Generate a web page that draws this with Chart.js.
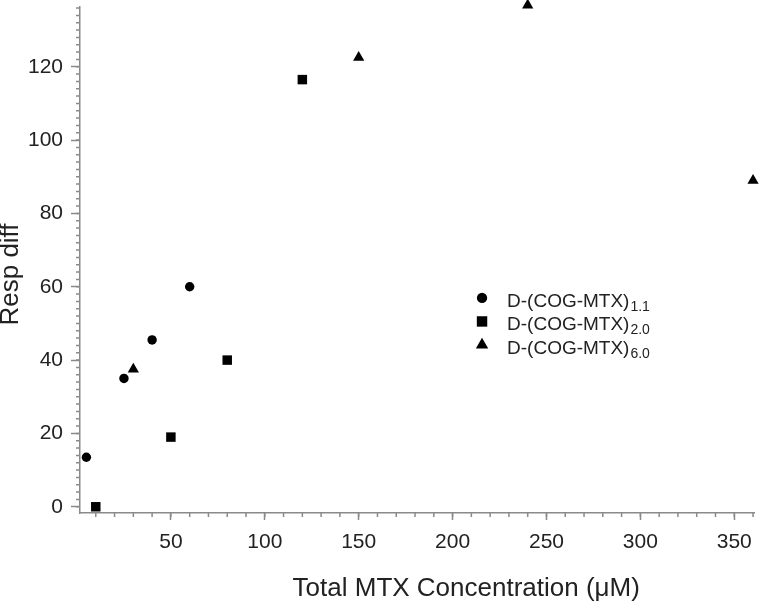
<!DOCTYPE html>
<html>
<head>
<meta charset="utf-8">
<script src="https://cdn.jsdelivr.net/npm/chart.js@4/dist/chart.umd.min.js"></script>
<style>
  html, body { margin: 0; padding: 0; background: #fff; }
</style>
</head>
<body>
<canvas id="chart" width="762" height="605"></canvas>
<script>
"use strict";

// series names are D-(COG-MTX) with the loading ratio as a subscript
const seriesBase = 'D-(COG-MTX)';
const seriesSubs = ['1.1', '2.0', '6.0'];
const seriesShapes = ['circle', 'rect', 'triangle'];

const conc11 = [5, 25, 40, 60];
const resp11 = [13.5, 35, 45.5, 60];
const conc20 = [10, 50, 80, 120];
const resp20 = [0, 19, 40, 116.5];
const conc60 = [30, 150, 240, 360];
const resp60 = [37.5, 122.5, 136.8, 89];

const xTicks = [50, 100, 150, 200, 250, 300, 350];
const yTicks = [0, 20, 40, 60, 80, 100, 120];
const xMinorStep = 10;
const yMinorStep = 2;

const xTitle = 'Total MTX Concentration (μM)';
const yTitle = 'Resp diff';

const fontFamily = '"Liberation Sans", Arial, Helvetica, sans-serif';
const axisColor = '#8a8a8a';
const textColor = '#222';
const markColor = '#000';
const pointSizes = [4.7, 6.7, 6.5];


function toPoints(xs, ys) {
  return xs.map((x, i) => ({x: x, y: ys[i]}));
}

const seriesData = [
  toPoints(conc11, resp11),
  toPoints(conc20, resp20),
  toPoints(conc60, resp60)
];


// short minor ticks between the labelled ones
function drawMinor(ctx, scale, step, len, horizontal) {
  ctx.save();
  ctx.strokeStyle = axisColor;
  ctx.lineWidth = 1.5;
  ctx.beginPath();
  for (let i = Math.ceil(scale.min / step); i * step <= scale.max + 1e-9; i++) {
    const p = scale.getPixelForValue(i * step);
    if (horizontal) {
      ctx.moveTo(p, scale.top);
      ctx.lineTo(p, scale.top + len);
    } else {
      ctx.moveTo(scale.right, p);
      ctx.lineTo(scale.right - len, p);
    }
  }
  ctx.stroke();
  ctx.restore();
}

const minorTicks = {
  id: 'minorTicks',
  afterDraw(chart) {
    drawMinor(chart.ctx, chart.scales.x, xMinorStep, 4, true);
    drawMinor(chart.ctx, chart.scales.y, yMinorStep, 4, false);
  }
};

// axis titles sit off-centre in the original, so draw them here
const axisTitles = {
  id: 'axisTitles',
  afterDraw(chart) {
    const ctx = chart.ctx;
    const a = chart.chartArea;
    ctx.save();
    ctx.fillStyle = textColor;
    ctx.font = '26px ' + fontFamily;
    ctx.textAlign = 'center';
    ctx.textBaseline = 'middle';
    ctx.fillText(xTitle, a.left + (a.right - a.left) * 0.5726, 589);
    ctx.translate(11, a.top + (a.bottom - a.top) * 0.5286);
    ctx.rotate(-Math.PI / 2);
    ctx.fillText(yTitle, 0, 0);
    ctx.restore();
  }
};

// legend with subscripts (the built in legend can't do them)
const seriesLegend = {
  id: 'seriesLegend',
  afterDraw(chart) {
    const ctx = chart.ctx;
    const a = chart.chartArea;
    const x0 = a.left + (a.right - a.left) * 0.596;
    const y0 = a.top + (a.bottom - a.top) * 0.575;
    const rowGap = 23.5;
    chart.data.datasets.forEach((ds, i) => {
      const y = y0 + i * rowGap;
      ctx.save();
      ctx.fillStyle = markColor;
      ctx.strokeStyle = markColor;
      Chart.helpers.drawPoint(ctx, {
        pointStyle: ds.pointStyle,
        radius: ds.pointRadius * 1.1,
        rotation: 0,
        borderWidth: 0
      }, x0, y);
      ctx.fillStyle = textColor;
      ctx.textAlign = 'left';
      ctx.textBaseline = 'alphabetic';
      ctx.font = '19px ' + fontFamily;
      const tx = x0 + 25;
      ctx.fillText(seriesBase, tx, y + 9);
      const w = ctx.measureText(seriesBase).width;
      ctx.font = '14px ' + fontFamily;
      ctx.fillText(seriesSubs[i], tx + w + 1, y + 13);
      ctx.restore();
    });
  }
};


const datasets = seriesData.map((pts, i) => ({
  label: seriesBase + seriesSubs[i],
  data: pts,
  pointStyle: seriesShapes[i],
  pointRadius: pointSizes[i],
  pointHoverRadius: pointSizes[i],
  backgroundColor: markColor,
  borderColor: markColor,
  borderWidth: 0,
  showLine: false,
  clip: false
}));

const config = {
  type: 'scatter',
  data: { datasets: datasets },
  plugins: [minorTicks, axisTitles, seriesLegend],
  options: {
    responsive: false,
    animation: false,
    devicePixelRatio: 1,
    events: [],
    layout: {
      padding: { top: 7, right: 7, left: 0, bottom: 0 }
    },
    plugins: {
      legend: { display: false },
      tooltip: { enabled: false }
    },
    scales: {
      x: {
        type: 'linear',
        min: 1.6,
        max: 360.8,
        afterBuildTicks: s => { s.ticks = xTicks.map(v => ({value: v})); },
        afterFit: s => { s.height = 92; },
        ticks: {
          color: textColor,
          font: { family: fontFamily, size: 21 },
          padding: 10,
          maxRotation: 0,
          autoSkip: false
        },
        grid: {
          drawOnChartArea: false,
          tickLength: 7,
          tickColor: axisColor,
          tickWidth: 1.5
        },
        border: { color: axisColor, width: 1.5 }
      },
      y: {
        type: 'linear',
        min: -1.7,
        max: 136.3,
        afterBuildTicks: s => { s.ticks = yTicks.map(v => ({value: v})); },
        afterFit: s => {
          s.width = 80;
          // no label sits at the ends, so no room needed for them
          s.paddingTop = 0;
          s.paddingBottom = 0;
        },
        ticks: {
          color: textColor,
          font: { family: fontFamily, size: 21 },
          padding: 8,
          autoSkip: false
        },
        grid: {
          drawOnChartArea: false,
          tickLength: 9,
          tickColor: axisColor,
          tickWidth: 1.5
        },
        border: { color: axisColor, width: 1.5 }
      }
    }
  }
};

new Chart('chart', config);
</script>
</body>
</html>
